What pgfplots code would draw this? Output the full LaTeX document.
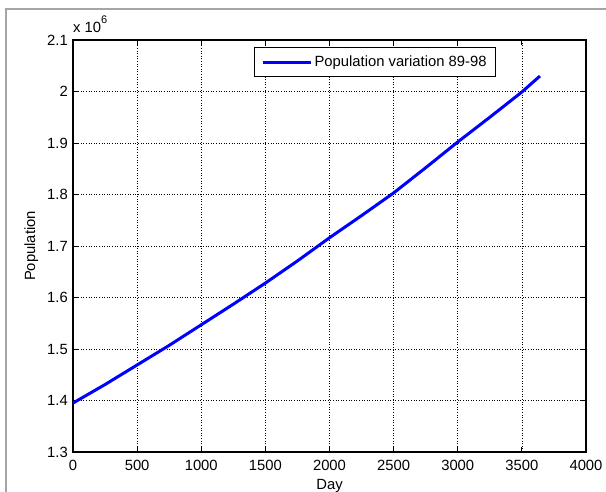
\documentclass[border=0pt]{standalone}
\usepackage{fontspec}
\setmainfont{Liberation Sans}
\usepackage{pgfplots}
\pgfplotsset{compat=1.18}
\newcommand{\lbl}{\fontsize{14.8}{16}\selectfont}
\begin{document}
\begin{tikzpicture}[x=1pt,y=1pt]
\useasboundingbox (0,0) rectangle (606,492);
\draw[color={rgb,255:red,165;green,165;blue,165}, line width=1.5pt] (6,-5) -- (6,483) -- (612,483);
\begin{axis}[
  at={(73pt,40pt)}, anchor=south west,
  scale only axis, width=513pt, height=412pt,
  clip=false,
  xmin=0, xmax=4000, ymin=1300000, ymax=2100000,
  xtick={0,500,1000,1500,2000,2500,3000,3500,4000},
  xticklabels={0,500,1000,1500,2000,2500,3000,3500,4000},
  ytick={1300000,1400000,1500000,1600000,1700000,1800000,1900000,2000000,2100000},
  yticklabels={1.3,1.4,1.5,1.6,1.7,1.8,1.9,2,2.1},
  scaled y ticks=false, scaled x ticks=false,
  ticklabel style={font=\lbl},
  yticklabel style={inner sep=0pt, xshift=-5pt},
  xticklabel style={inner sep=0pt, yshift=-8pt},
  tick align=inside, tick pos=both, major tick length=5pt,
  tick style={black, line width=0.8pt},
  axis line style={black, line width=1.5pt},
  grid=major,
  major grid style={black, line width=0.7pt, dash pattern=on 1pt off 1.6pt},
  xlabel={Day}, ylabel={Population},
  every axis x label/.style={at={(axis description cs:0.5,-0.092)}, anchor=base, font=\lbl},
  every axis y label/.style={at={(axis description cs:-0.074,0.5)}, rotate=90, anchor=base, font=\lbl},
  legend style={at={(axis description cs:0.353,0.983)}, anchor=north west, draw=black, line width=1pt,
    font=\lbl, inner xsep=7pt, inner ysep=6.5pt, nodes={inner sep=2pt}},
  legend image code/.code={\draw[#1] (0pt,0pt) -- (48pt,0pt);},
]
\addplot[color={rgb,255:red,0;green,0;blue,255}, line width=3pt] coordinates {
 (0,1395000) (250,1431000) (500,1469000) (750,1507000) (1000,1547000)
 (1250,1587000) (1500,1628000) (1750,1671000) (2000,1716000) (2250,1759000)
 (2500,1803000) (2750,1852000) (3000,1902000) (3250,1950000) (3500,1999000)
 (3641,2030000)
};
\addlegendentry{Population variation 89-98}
\node[anchor=base west, inner sep=0pt, font=\lbl] at (rel axis cs:0,1) [yshift=7pt] {x 10\raisebox{9pt}{\fontsize{11}{11}\selectfont 6}};
\end{axis}
\end{tikzpicture}
\end{document}
